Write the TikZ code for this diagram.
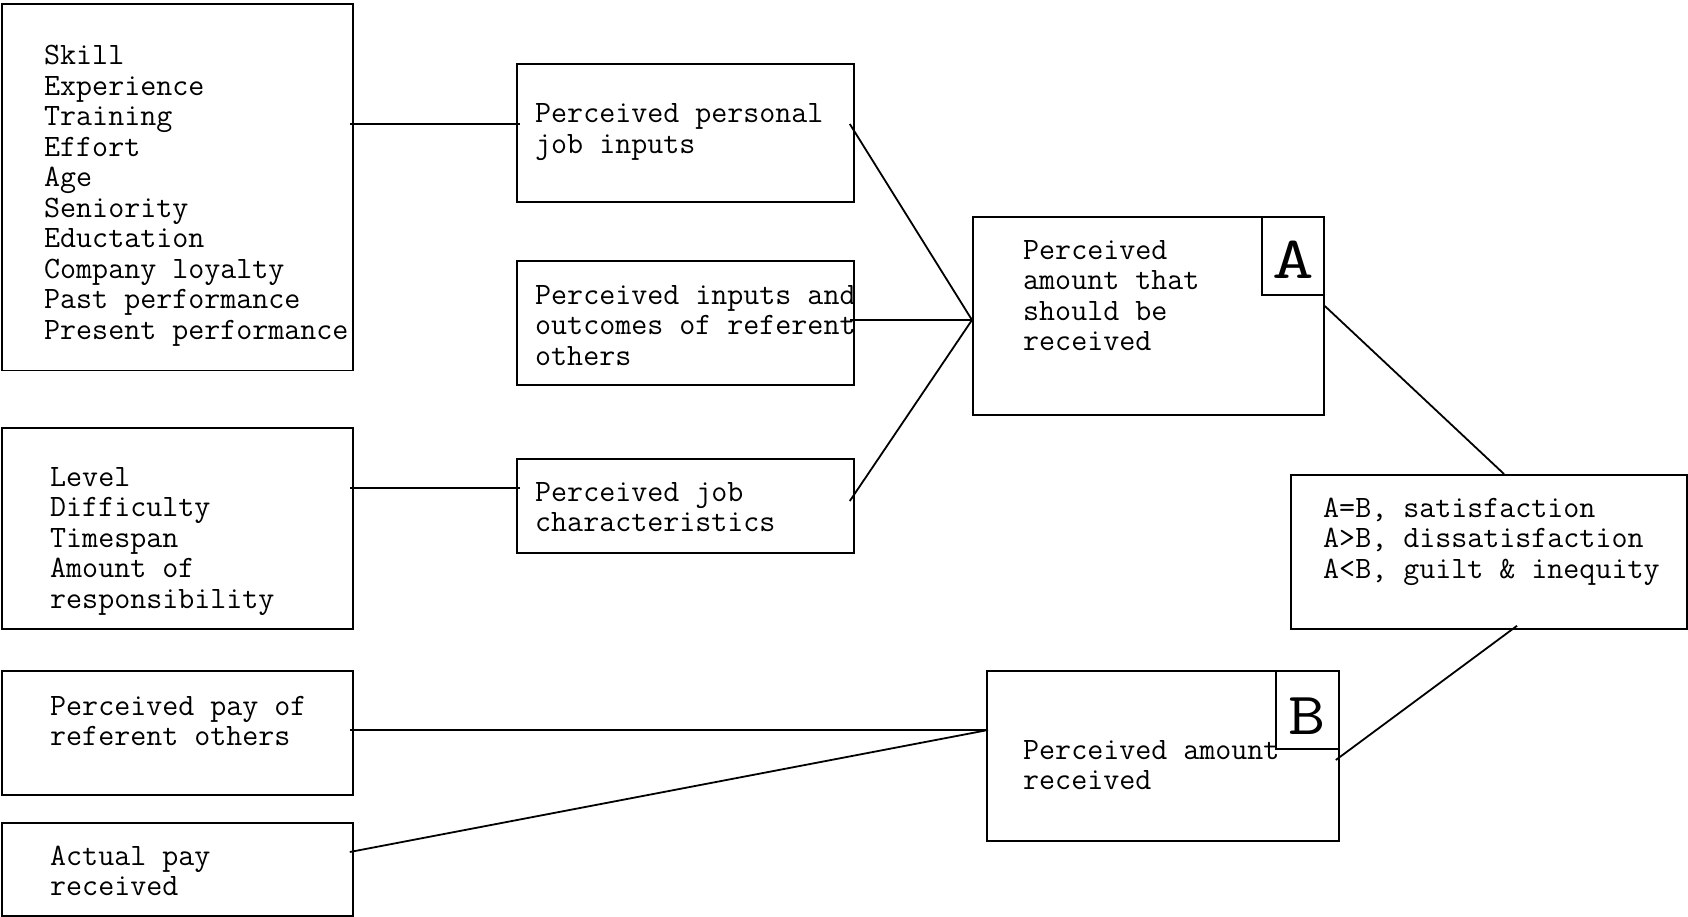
\documentclass[tikz,border=0pt]{standalone}
\usepackage{fontspec}
\usetikzlibrary{calc}
\newcommand{\lns}[1]{\begin{tabular}[t]{@{}l@{}}#1\end{tabular}}
\begin{document}
\begin{tikzpicture}[x=1pt,y=-1pt,
  box/.style={draw, line width=1.8pt, inner sep=0pt, anchor=north west},
  txt/.style={inner sep=0pt, anchor=base west, font=\fontsize{31.1}{30.5}\selectfont\ttfamily},
  big/.style={inner sep=0pt, anchor=base, font=\fontsize{60}{60}\selectfont\ttfamily},
  conn/.style={line width=1.8pt}]
\fill[white] (0,0) rectangle (1688,917);
\useasboundingbox (0,0) rectangle (1688,917);
% boxes
\node[box, minimum width=351, minimum height=366] (b1) at (1,3.5) {};
\node[box, minimum width=337, minimum height=138] (b2) at (516,63.5) {};
\node[box, minimum width=337, minimum height=124] (b3) at (516,260) {};
\node[box, minimum width=337, minimum height=94] (b4) at (516,458) {};
\node[box, minimum width=351, minimum height=201] (b5) at (1,427) {};
\node[box, minimum width=351, minimum height=124] (b6) at (1,670) {};
\node[box, minimum width=351, minimum height=93] (b7) at (1,822) {};
\node[box, minimum width=351, minimum height=198] (bA) at (972,216) {};
\node[box, minimum width=62, minimum height=78] (lA) at (1261,216) {};
\node[box, minimum width=352, minimum height=170] (bB) at (986,670) {};
\node[box, minimum width=63, minimum height=78] (lB) at (1275,670) {};
\node[box, minimum width=396, minimum height=154] (bR) at (1290,474) {};
% texts
\node[txt] (t1) at (44,65) {\lns{Skill\\Experience\\Training\\Effort\\Age\\Seniority\\Eductation\\Company loyalty\\Past performance\\Present performance}};
\node[txt] (t2) at (535,123) {\lns{Perceived personal\\job inputs}};
\node[txt] (t3) at (535,304) {\lns{Perceived inputs and\\outcomes of referent\\others}};
\node[txt] (t4) at (535,501) {\lns{Perceived job\\characteristics}};
\node[txt] (t5) at (50,486) {\lns{Level\\Difficulty\\Timespan\\Amount of\\responsibility}};
\node[txt] (t6) at (50,715) {\lns{Perceived pay of\\referent others}};
\node[txt] (t7) at (50,865) {\lns{Actual pay\\received}};
\node[txt] (tA) at (1023,259) {\lns{Perceived\\amount that\\should be\\received}};
\node[txt] (tB) at (1023,759) {\lns{Perceived amount\\received}};
\node[txt] (tR) at (1323,517) {\lns{A=B, satisfaction\\A>B, dissatisfaction\\A<B, guilt \& inequity}};
\node[big] (gA) at (1293,278) {\scalebox{1.35}[1]{A}};
\node[big] (gB) at (1307,734) {\scalebox{1.2}[1]{B}};
% connectors
\draw[conn] ([shift={(-4,120.5)}]b1.north east) -- ([shift={(4,60.5)}]b2.north west);
\draw[conn] ([shift={(-4,61)}]b5.north east) -- ([shift={(4,30)}]b4.north west);
\draw[conn] ([shift={(-5,60.5)}]b2.north east) -- ([shift={(0,104)}]bA.north west);
\draw[conn] ([shift={(-5,60)}]b3.north east) -- ([shift={(0,104)}]bA.north west);
\draw[conn] ([shift={(-5,43)}]b4.north east) -- ([shift={(0,104)}]bA.north west);
\draw[conn] ([shift={(0,90)}]bA.north east) -- ([shift={(214,0)}]bR.north west);
\draw[conn] ([shift={(227,-4)}]bR.south west) -- ([shift={(-4,90)}]bB.north east);
\draw[conn] ([shift={(-4,60)}]b6.north east) -- ([shift={(2,60)}]bB.north west);
\draw[conn] ([shift={(-4,30)}]b7.north east) -- ([shift={(2,60)}]bB.north west);
\end{tikzpicture}
\end{document}
